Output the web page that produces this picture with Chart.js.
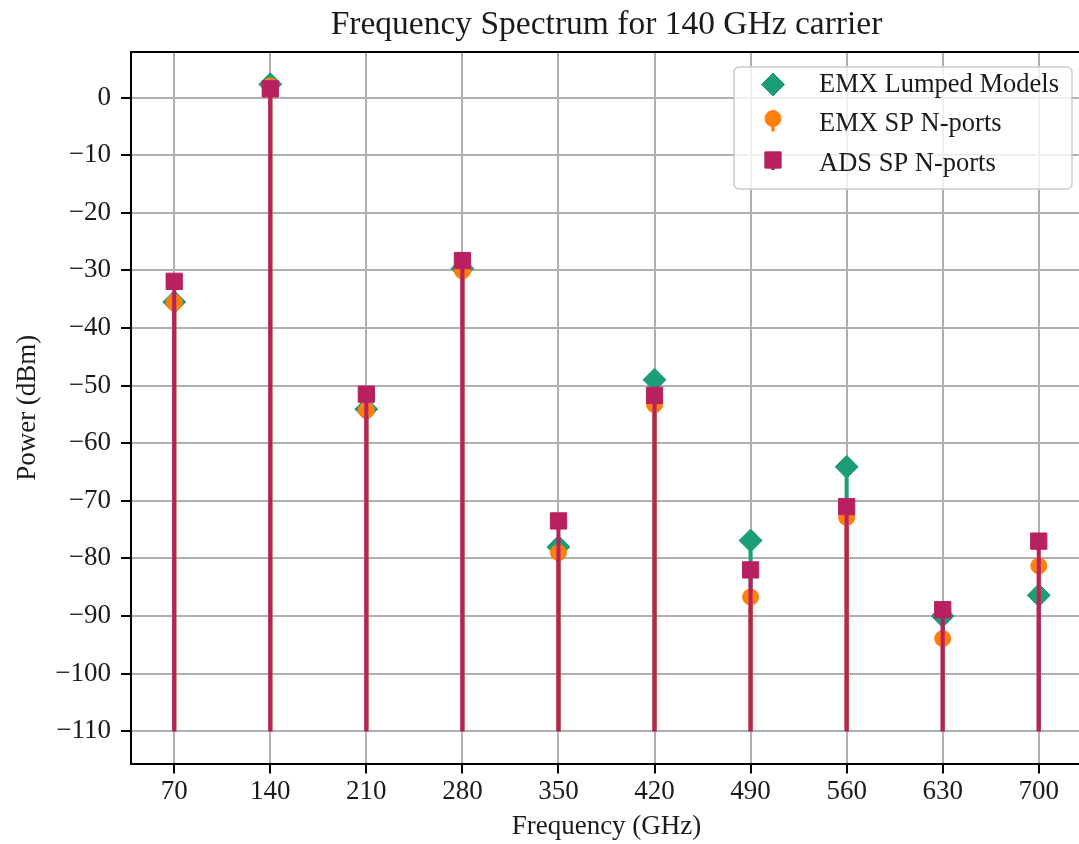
<!DOCTYPE html>
<html>
<head>
<meta charset="utf-8">
<script src="https://cdn.jsdelivr.net/npm/chart.js@4/dist/chart.umd.min.js"></script>
<style>
  html, body { margin: 0; padding: 0; background: #fff; overflow: hidden; }
  #spectrum { display: block; }
</style>
</head>
<body>
<canvas id="spectrum" width="1082" height="844"></canvas>
<script>
// Harmonic frequencies (GHz) of the 140 GHz carrier spectrum
const freqGHz = [70, 140, 210, 280, 350, 420, 490, 560, 630, 700];

// Output power (dBm) per harmonic for each simulation setup
const emxLumped = [-35.5, 2.3, -54.1, -29.7, -78.0, -49.0, -76.9, -64.1, -90.0, -86.4];
const emxSP     = [-35.6, 2.0, -54.3, -30.1, -79.0, -53.3, -86.7, -72.9, -93.9, -81.3];
const adsSP     = [-31.9, 1.5, -51.5, -28.3, -73.5, -51.7, -82.0, -71.0, -88.9, -77.0];

// Stems are drawn up from this floor level
const stemFloor = -110;

// Axis tick values
const yTicks = [0, -10, -20, -30, -40, -50, -60, -70, -80, -90, -100, -110];
const xTicks = freqGHz.slice();

const seriesLabels = ['EMX Lumped Models', 'EMX SP N-ports', 'ADS SP N-ports'];
const seriesValues = [emxLumped, emxSP, adsSP];
const seriesColors = ['#1b9e77', '#ff7f0e', '#b8205f'];
const seriesMarkers = [
  { pointStyle: 'rectRot', radius: 11.5 },
  { pointStyle: 'circle',  radius: 8 },
  { pointStyle: 'rect',    radius: 11.5 }
];

const FONT = "'Liberation Serif', 'Times New Roman', serif";
const TEXT = '#1a1a1a';

// Each series: a stem layer (floating bars) then its marker layer.
// Lower `order` is painted later, so later series sit on top.
const datasets = [];
seriesValues.forEach((vals, i) => {
  const base = 10 - i * 3;
  datasets.push({
    type: 'bar',
    label: seriesLabels[i] + ' stems',
    data: freqGHz.map((f, k) => ({ x: f, y: [stemFloor, vals[k]] })),
    backgroundColor: seriesColors[i],
    borderWidth: 0,
    barThickness: 3.4,
    grouped: false,
    order: base
  });
  datasets.push({
    type: 'scatter',
    label: seriesLabels[i],
    data: freqGHz.map((f, k) => ({ x: f, y: vals[k] })),
    backgroundColor: seriesColors[i],
    borderColor: seriesColors[i],
    borderWidth: 1,
    pointStyle: seriesMarkers[i].pointStyle,
    pointRadius: seriesMarkers[i].radius,
    showLine: false,
    order: base - 1
  });
});

const minusLabel = v => (v < 0 ? '\u2212' + Math.abs(v) : String(v));

// Top spine of the axes frame
const framePlugin = {
  id: 'frameTop',
  afterDraw(chart) {
    const { ctx, chartArea: a } = chart;
    ctx.save();
    ctx.strokeStyle = '#000';
    ctx.lineWidth = 2;
    ctx.beginPath();
    ctx.moveTo(a.left - 1, a.top);
    ctx.lineTo(a.right, a.top);
    ctx.stroke();
    ctx.restore();
  }
};

// Legend box in the upper right of the plot
const stemLegendPlugin = {
  id: 'stemLegend',
  afterDraw(chart) {
    const { ctx } = chart;
    const box = { x: 734, y: 67, w: 338, h: 122, r: 5 };
    ctx.save();
    ctx.beginPath();
    ctx.roundRect(box.x, box.y, box.w, box.h, box.r);
    ctx.fillStyle = 'rgba(255,255,255,0.8)';
    ctx.fill();
    ctx.strokeStyle = '#cccccc';
    ctx.lineWidth = 1.5;
    ctx.stroke();

    const rows = [
      { my: 84.5, ty: 85.5, stem: 0 },
      { my: 118.5, ty: 124.5, stem: 13 },
      { my: 160, ty: 164.5, stem: 10 }
    ];
    const mx = 773;
    rows.forEach((row, i) => {
      const c = seriesColors[i];
      ctx.fillStyle = c;
      ctx.strokeStyle = c;
      if (row.stem) {
        ctx.lineWidth = 3.4;
        ctx.beginPath();
        ctx.moveTo(mx, row.my);
        ctx.lineTo(mx, row.my + row.stem);
        ctx.stroke();
      }
      ctx.lineWidth = 1;
      ctx.beginPath();
      const style = seriesMarkers[i].pointStyle;
      const r = seriesMarkers[i].radius;
      if (style === 'rectRot') {
        ctx.moveTo(mx - r, row.my);
        ctx.lineTo(mx, row.my - r);
        ctx.lineTo(mx + r, row.my);
        ctx.lineTo(mx, row.my + r);
        ctx.closePath();
      } else if (style === 'circle') {
        ctx.arc(mx, row.my, r, 0, Math.PI * 2);
      } else {
        const h = r * Math.SQRT1_2;
        ctx.rect(mx - h, row.my - h, 2 * h, 2 * h);
      }
      ctx.fill();
      ctx.stroke();

      ctx.fillStyle = TEXT;
      ctx.font = '26.5px ' + FONT;
      ctx.textBaseline = 'middle';
      ctx.textAlign = 'left';
      ctx.fillText(seriesLabels[i], 819, row.ty);
    });
    ctx.restore();
  }
};

new Chart(document.getElementById('spectrum'), {
  type: 'bar',
  data: { datasets },
  options: {
    responsive: false,
    animation: false,
    events: [],
    layout: { padding: 0, autoPadding: false },
    plugins: {
      legend: { display: false },
      tooltip: { enabled: false },
      title: {
        display: true,
        text: 'Frequency Spectrum for 140 GHz carrier',
        fullSize: false,
        color: TEXT,
        font: { family: FONT, size: 33.5, weight: 'normal', lineHeight: 1.2 },
        padding: { top: 5, bottom: 6.8 }
      }
    },
    scales: {
      x: {
        type: 'linear',
        min: 38.5,
        max: 731.5,
        offset: false,
        afterBuildTicks: s => { s.ticks = xTicks.map(v => ({ value: v })); },
        afterFit: s => { s.height = 80.5; s.paddingLeft = 0; s.paddingRight = 0; },
        ticks: {
          color: TEXT,
          padding: 2,
          maxRotation: 0,
          autoSkip: false,
          font: { family: FONT, size: 27, lineHeight: 1.2 },
          callback: v => String(v)
        },
        grid: {
          offset: false,
          color: '#b0b0b0',
          lineWidth: 2,
          tickColor: '#000',
          tickLength: 10,
          tickWidth: 2
        },
        border: { display: true, color: '#000', width: 2 },
        title: {
          display: true,
          text: 'Frequency (GHz)',
          color: TEXT,
          font: { family: FONT, size: 27, lineHeight: 1.2 },
          padding: { top: 0, bottom: 1 }
        }
      },
      y: {
        type: 'linear',
        min: -115.6,
        max: 7.9,
        afterBuildTicks: s => { s.ticks = yTicks.map(v => ({ value: v })); },
        afterFit: s => { s.width = 131; s.paddingTop = 0; s.paddingBottom = 0; },
        ticks: {
          color: TEXT,
          padding: 10,
          autoSkip: false,
          font: { family: FONT, size: 27, lineHeight: 1.2 },
          callback: v => minusLabel(v)
        },
        grid: {
          color: '#b0b0b0',
          lineWidth: 2,
          tickColor: '#000',
          tickLength: 10,
          tickWidth: 2
        },
        border: { display: true, color: '#000', width: 2 },
        title: {
          display: true,
          text: 'Power (dBm)',
          color: TEXT,
          font: { family: FONT, size: 27, lineHeight: 1.2 },
          padding: { top: 12, bottom: 0 }
        }
      }
    }
  },
  plugins: [framePlugin, stemLegendPlugin]
});
</script>
</body>
</html>
